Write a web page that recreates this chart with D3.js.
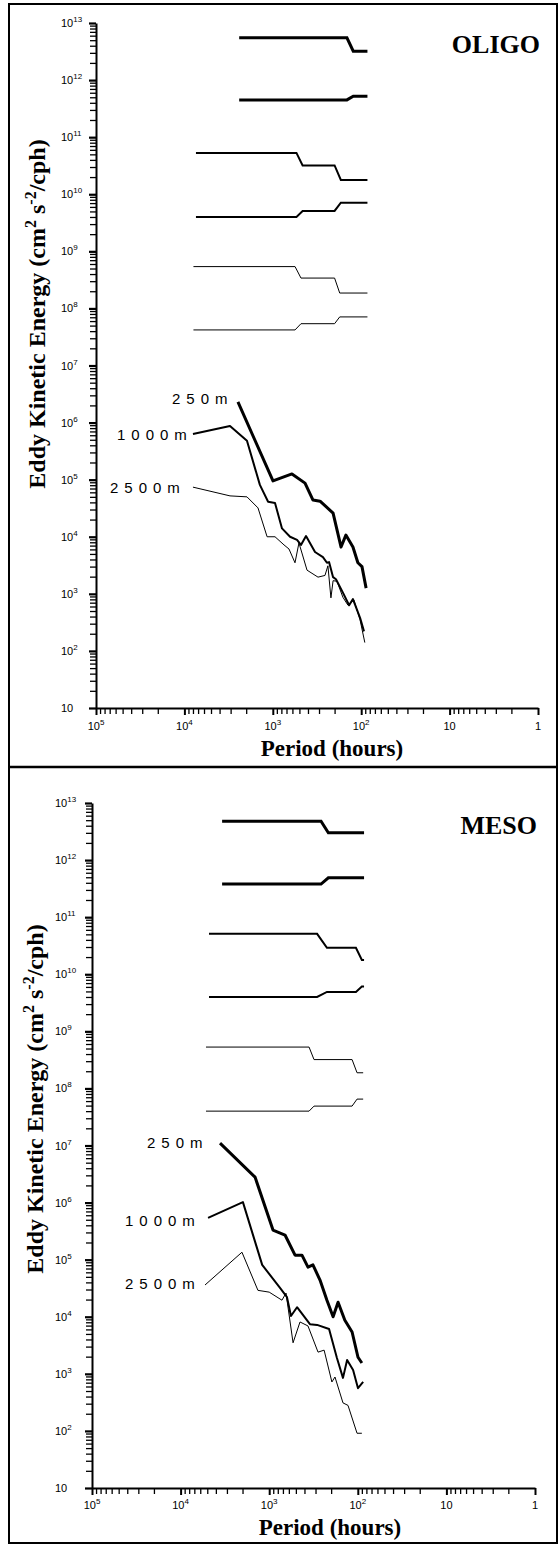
<!DOCTYPE html>
<html>
<head>
<meta charset="utf-8">
<script src="https://cdn.jsdelivr.net/npm/d3@7"></script>
<style>
body{margin:0;background:#fff;}
svg{display:block;}
</style>
</head>
<body>
<script>
// depths and their line weights
var depths = ['250m', '1000m', '2500m'];

// OLIGO spectra: period (hours) vs eddy kinetic energy
var oligoPeriod250 = [2480, 995, 607, 432, 351, 292, 208, 169, 149, 124, 109, 98, 88];
var oligoEke250 = [2.3e6, 9.5e4, 1.26e5, 8.7e4, 4.4e4, 4.2e4, 2.6e4, 6.6e3, 1.07e4, 6.6e3, 3.5e3, 3.0e3, 1.26e3];
var oligoPeriod1000 = [8000, 3050, 1960, 1400, 1130, 944, 787, 638, 532, 480, 421, 333, 271, 244, 231, 208, 193, 161, 137, 124, 103, 93];
var oligoEke1000 = [6.3e5, 8.7e5, 4.8e5, 8.1e4, 4.1e4, 3.9e4, 1.4e4, 1.0e4, 8.8e3, 7.2e3, 1.03e4, 5.4e3, 4.4e3, 3.5e3, 3.6e3, 1.96e3, 1.8e3, 1.05e3, 6.3e2, 8.1e2, 3.8e2, 2.2e2];
var oligoPeriod2500 = [8000, 3050, 1960, 1470, 1160, 944, 747, 656, 561, 506, 410, 308, 257, 238, 220, 208, 188, 161, 141, 121, 103, 91];
var oligoEke2500 = [7.4e4, 5.2e4, 5.0e4, 3.2e4, 1.0e4, 1.0e4, 7.2e3, 6.1e3, 3.5e3, 7.8e3, 2.6e3, 1.96e3, 2.1e3, 3.1e3, 8.5e2, 1.7e3, 1.66e3, 8.7e2, 6.3e2, 7.8e2, 3.5e2, 1.4e2];

// OLIGO confidence bands (upper / lower)
var oligoCiPeriod250 = [2400, 145, 123, 85];
var oligoCiUpper250 = [5.5e12, 5.5e12, 3.2e12, 3.2e12];
var oligoCiLower250 = [4.5e11, 4.5e11, 5.2e11, 5.2e11];
var oligoCiPeriod1000 = [7400, 540, 460, 200, 170, 85];
var oligoCiUpper1000 = [5.3e10, 5.3e10, 3.2e10, 3.2e10, 1.78e10, 1.78e10];
var oligoCiLower1000 = [4.0e9, 4.0e9, 5.1e9, 5.1e9, 7.1e9, 7.1e9];
var oligoCiPeriod2500 = [7900, 560, 480, 200, 175, 85];
var oligoCiUpper2500 = [5.4e8, 5.4e8, 3.4e8, 3.4e8, 1.86e8, 1.86e8];
var oligoCiLower2500 = [4.2e7, 4.2e7, 5.4e7, 5.4e7, 7.1e7, 7.1e7];

// MESO spectra
var mesoPeriod250 = [3590, 1445, 906, 663, 511, 427, 365, 321, 267, 223, 190, 167, 140, 116, 99.5, 90];
var mesoEke250 = [1.1e7, 2.8e6, 3.3e5, 2.7e5, 1.2e5, 1.2e5, 7.4e4, 8.1e4, 4.4e4, 1.95e4, 1.0e4, 1.8e4, 8.7e3, 5.4e3, 1.95e3, 1.55e3];
var mesoPeriod1000 = [4900, 1980, 1200, 755, 630, 568, 485, 347, 288, 211, 172, 147, 132, 113, 99.5, 87];
var mesoEke1000 = [5.4e5, 1.02e6, 8.1e4, 3.2e4, 2.2e4, 1.03e4, 1.47e4, 7.4e3, 7.2e3, 6.1e3, 1.9e3, 8.5e2, 1.75e3, 1.17e3, 5.6e2, 7.2e2];
var mesoPeriod2500 = [5300, 2030, 1340, 1000, 718, 646, 538, 449, 365, 281, 240, 196, 181, 147, 129, 102, 90];
var mesoEke2500 = [3.6e4, 1.35e5, 2.9e4, 2.7e4, 1.95e4, 2.6e4, 3.5e3, 8.1e3, 6.9e3, 2.4e3, 2.6e3, 7.2e2, 8.8e2, 3.1e2, 2.8e2, 91, 91];

// MESO confidence bands
var mesoCiPeriod250 = [3400, 260, 215, 85];
var mesoCiUpper250 = [4.8e12, 4.8e12, 3.0e12, 3.0e12];
var mesoCiLower250 = [3.8e11, 3.8e11, 4.9e11, 4.9e11];
var mesoCiPeriod1000 = [4780, 288, 223, 105, 90, 85];
var mesoCiUpper1000 = [5.1e10, 5.1e10, 2.9e10, 2.9e10, 1.78e10, 1.78e10];
var mesoCiLower1000 = [4.0e9, 4.0e9, 4.9e9, 4.9e9, 6.1e9, 6.1e9];
var mesoCiPeriod2500 = [5170, 355, 312, 116, 102, 87];
var mesoCiUpper2500 = [5.3e8, 5.3e8, 3.2e8, 3.2e8, 1.88e8, 1.88e8];
var mesoCiLower2500 = [4.0e7, 4.0e7, 4.9e7, 4.9e7, 6.5e7, 6.5e7];

// axis tick labels (powers of ten)
var yDecades = [1, 2, 3, 4, 5, 6, 7, 8, 9, 10, 11, 12, 13];
var xDecades = [5, 4, 3, 2, 1, 0];

var lineWidths = [3, 2, 1];

var panels = [
	{
		name: 'OLIGO',
		x0: 96, x1: 538, y0: 708, y1: 23,
		tickLabelX: 61, tickLabelY: 730,
		nameX: 540, nameY: 53,
		xTitleX: 332, xTitleY: 756,
		yTitleX: 45, yTitleY: 314,
		depthLabelPos: [[172, 404], [117, 440], [110, 493]],
		spectra: [
			d3.zip(oligoPeriod250, oligoEke250),
			d3.zip(oligoPeriod1000, oligoEke1000),
			d3.zip(oligoPeriod2500, oligoEke2500)
		],
		bands: [
			[d3.zip(oligoCiPeriod250, oligoCiUpper250), d3.zip(oligoCiPeriod250, oligoCiLower250)],
			[d3.zip(oligoCiPeriod1000, oligoCiUpper1000), d3.zip(oligoCiPeriod1000, oligoCiLower1000)],
			[d3.zip(oligoCiPeriod2500, oligoCiUpper2500), d3.zip(oligoCiPeriod2500, oligoCiLower2500)]
		]
	},
	{
		name: 'MESO',
		x0: 92, x1: 535, y0: 1488, y1: 803,
		tickLabelX: 55, tickLabelY: 1509,
		nameX: 537, nameY: 834,
		xTitleX: 330, xTitleY: 1535,
		yTitleX: 43, yTitleY: 1099,
		depthLabelPos: [[147, 1148], [125, 1226], [125, 1289]],
		spectra: [
			d3.zip(mesoPeriod250, mesoEke250),
			d3.zip(mesoPeriod1000, mesoEke1000),
			d3.zip(mesoPeriod2500, mesoEke2500)
		],
		bands: [
			[d3.zip(mesoCiPeriod250, mesoCiUpper250), d3.zip(mesoCiPeriod250, mesoCiLower250)],
			[d3.zip(mesoCiPeriod1000, mesoCiUpper1000), d3.zip(mesoCiPeriod1000, mesoCiLower1000)],
			[d3.zip(mesoCiPeriod2500, mesoCiUpper2500), d3.zip(mesoCiPeriod2500, mesoCiLower2500)]
		]
	}
];

var svg = d3.select('body').append('svg')
	.attr('width', 560)
	.attr('height', 1546);

svg.append('rect')
	.attr('x', 9).attr('y', 4)
	.attr('width', 548).attr('height', 1539)
	.attr('fill', 'none').attr('stroke', '#000').attr('stroke-width', 2);

svg.append('line')
	.attr('x1', 9).attr('x2', 557)
	.attr('y1', 767).attr('y2', 767)
	.attr('stroke', '#000').attr('stroke-width', 2.5);

// every 1..9 x 10^n between two decades
var logTicks = function(lo, hi){
	var t = [];
	for (var e = lo; e < hi; e++) {
		for (var k = 1; k < 10; k++) t.push(k * Math.pow(10, e));
	}
	t.push(Math.pow(10, hi));
	return t;
}

var isDecade = function(d){
	return Math.abs(Math.log10(d) - Math.round(Math.log10(d))) < 1e-9;
}

var drawPanel = function(p){
	var x = d3.scaleLog().domain([1e5, 1]).range([p.x0, p.x1]);
	var y = d3.scaleLog().domain([10, 1e13]).range([p.y0, p.y1]);
	var g = svg.append('g');

	var yAxis = d3.axisLeft(y).tickValues(logTicks(1, 13)).tickFormat('').tickSize(6).tickSizeOuter(0);
	var xAxis = d3.axisBottom(x).tickValues(logTicks(0, 5)).tickFormat('').tickSize(6).tickSizeOuter(0);

	var ya = g.append('g').attr('transform', 'translate(' + p.x0 + ',0)').call(yAxis);
	var xa = g.append('g').attr('transform', 'translate(0,' + p.y0 + ')').call(xAxis);
	[ya, xa].forEach(function(a){
		a.select('.domain').attr('stroke-width', 2);
		a.selectAll('.tick line').attr('stroke-width', 1.3);
	});
	ya.selectAll('.tick line').filter(isDecade).attr('stroke-width', 2.2).attr('x2', -7);
	xa.selectAll('.tick line').filter(isDecade).attr('stroke-width', 2).attr('y2', 7);

	// y tick labels, left aligned
	var yl = g.selectAll('.ylab').data(yDecades).enter().append('text')
		.attr('x', p.tickLabelX)
		.attr('y', function(d){ return y(Math.pow(10, d)) + 4; })
		.attr('font-family', 'Liberation Sans, Arial, sans-serif')
		.attr('font-size', 11);
	yl.append('tspan').text('10');
	yl.filter(function(d){ return d > 1; }).append('tspan')
		.attr('dy', -5).attr('font-size', 8).text(function(d){ return d; });

	var xl = g.selectAll('.xlab').data(xDecades).enter().append('text')
		.attr('x', function(d){ return x(Math.pow(10, d)); })
		.attr('y', p.tickLabelY)
		.attr('text-anchor', 'middle')
		.attr('font-family', 'Liberation Sans, Arial, sans-serif')
		.attr('font-size', 11);
	xl.append('tspan').text(function(d){ return d === 0 ? '1' : '10'; });
	xl.filter(function(d){ return d > 1; }).append('tspan')
		.attr('dy', -5).attr('font-size', 8).text(function(d){ return d; });

	// titles
	g.append('text')
		.attr('x', p.xTitleX).attr('y', p.xTitleY)
		.attr('text-anchor', 'middle')
		.attr('font-family', 'Liberation Serif, Times New Roman, serif')
		.attr('font-weight', 'bold').attr('font-size', 23)
		.text('Period (hours)');

	var yt = g.append('text')
		.attr('transform', 'translate(' + p.yTitleX + ',' + p.yTitleY + ') rotate(-90)')
		.attr('text-anchor', 'middle')
		.attr('font-family', 'Liberation Serif, Times New Roman, serif')
		.attr('font-weight', 'bold').attr('font-size', 24);
	yt.append('tspan').text('Eddy Kinetic Energy (cm');
	yt.append('tspan').attr('dy', -9).attr('font-size', 16).text('2');
	yt.append('tspan').attr('dy', 9).text(' s');
	yt.append('tspan').attr('dy', -9).attr('font-size', 16).text('-2');
	yt.append('tspan').attr('dy', 9).text('/cph)');

	g.append('text')
		.attr('x', p.nameX).attr('y', p.nameY)
		.attr('text-anchor', 'end')
		.attr('font-family', 'Liberation Serif, Times New Roman, serif')
		.attr('font-weight', 'bold').attr('font-size', 26)
		.text(p.name);

	var line = d3.line()
		.x(function(d){ return x(d[0]); })
		.y(function(d){ return y(d[1]); });

	p.bands.forEach(function(pair, i){
		g.selectAll(null).data(pair).enter().append('path')
			.attr('d', line)
			.attr('fill', 'none').attr('stroke', '#000')
			.attr('stroke-width', lineWidths[i]);
	});

	g.selectAll(null).data(p.spectra).enter().append('path')
		.attr('d', line)
		.attr('fill', 'none').attr('stroke', '#000')
		.attr('stroke-linejoin', 'round')
		.attr('stroke-width', function(d, i){ return lineWidths[i]; });

	g.selectAll(null).data(depths).enter().append('text')
		.attr('x', function(d, i){ return p.depthLabelPos[i][0]; })
		.attr('y', function(d, i){ return p.depthLabelPos[i][1]; })
		.attr('font-family', 'Liberation Sans, Arial, sans-serif')
		.attr('font-size', 15)
		.attr('letter-spacing', 6)
		.text(function(d){ return d; });
}

panels.forEach(drawPanel);
</script>
</body>
</html>
